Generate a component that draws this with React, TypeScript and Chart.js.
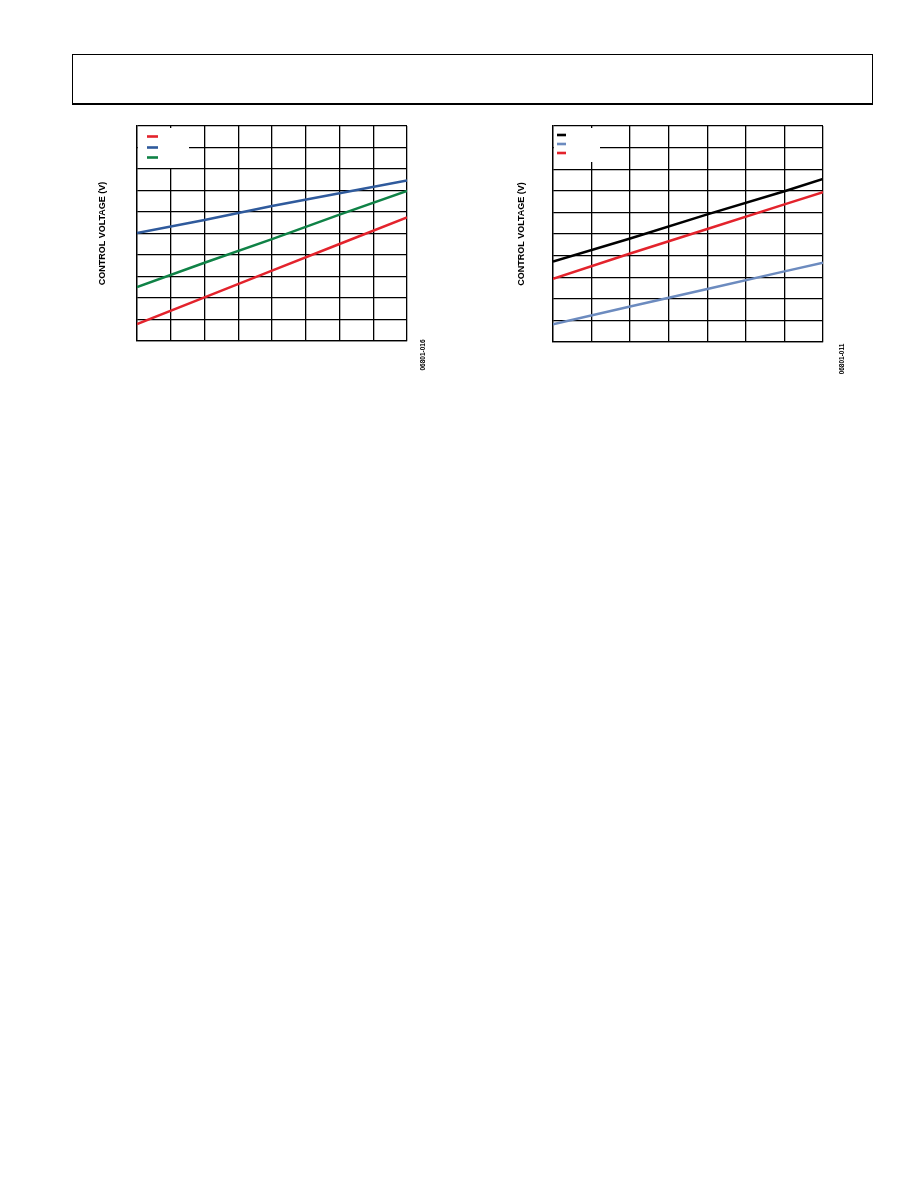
import React, { useEffect, useRef } from "react";
import { Chart, registerables } from "chart.js";

Chart.register(...registerables);

// ---------- Data ----------
const AXIS_TITLE = "CONTROL VOLTAGE (V)";

// Chart 1 (left)
const c1X = [0, 2, 4, 6, 8];
const c1Red = [0.79, 2.03, 3.27, 4.51, 5.75];
const c1Blue = [5.02, 5.63, 6.28, 6.87, 7.47];
const c1Green = [2.51, 3.64, 4.74, 5.88, 6.98];
const c1Colors = ["#e3232c", "#2f5a9c", "#0f8246"];
const c1Id = "06801-016";

// Chart 2 (right)
const c2X = [0, 2, 4, 6, 7];
const c2Black = [3.72, 4.79, 5.91, 6.98, 7.55];
const c2BlueGray = [0.82, 1.64, 2.45, 3.27, 3.67];
const c2Red = [2.92, 4.1, 5.23, 6.37, 6.94];
const c2Colors = ["#000000", "#6c8bbf", "#e3232c"];
const c2Id = "06801-011";

const FONT = "'Liberation Sans', Arial, sans-serif";

type LegendCfg = {
  boxW: number;
  boxH: number;
  swX: number;
  swW: number;
  swY: number[];
};

function legendPlugin(cfg: LegendCfg) {
  return {
    id: "innerLegend",
    afterDraw(chart: any) {
      const { ctx, chartArea } = chart;
      ctx.save();
      ctx.fillStyle = "#ffffff";
      ctx.fillRect(chartArea.left + 1, chartArea.top + 2, cfg.boxW, cfg.boxH);
      chart.data.datasets.forEach((ds: any, i: number) => {
        ctx.fillStyle = ds.borderColor;
        ctx.fillRect(
          chartArea.left + cfg.swX,
          chartArea.top + cfg.swY[i] - 1.3,
          cfg.swW,
          2.6
        );
      });
      ctx.restore();
    },
  };
}

type ChartSpec = {
  left: number;
  top: number;
  width: number;
  height: number;
  yScaleWidth: number;
  padRight: number;
  padTop: number;
  padBottom: number;
  titlePad: number;
  xMax: number;
  xs: number[];
  series: number[][];
  colors: string[];
  legend: LegendCfg;
};

function LineChart({ spec }: { spec: ChartSpec }) {
  const ref = useRef<HTMLCanvasElement>(null);
  useEffect(() => {
    if (!ref.current) return;
    const chart = new Chart(ref.current, {
      type: "line",
      data: {
        datasets: spec.series.map((vals, i) => ({
          label: "",
          data: vals.map((v, j) => ({ x: spec.xs[j], y: v })),
          borderColor: spec.colors[i],
          backgroundColor: spec.colors[i],
          borderWidth: 2.5,
          pointRadius: 0,
          tension: 0,
        })),
      },
      options: {
        animation: false,
        responsive: false,
        devicePixelRatio: 1,
        layout: {
          padding: {
            left: 0,
            right: spec.padRight,
            top: spec.padTop,
            bottom: spec.padBottom,
          },
        },
        plugins: {
          legend: { display: false },
          tooltip: { enabled: false },
        },
        scales: {
          x: {
            type: "linear",
            min: 0,
            max: spec.xMax,
            ticks: { display: false, stepSize: 1 },
            grid: { color: "#000", lineWidth: 1.3, drawTicks: false },
            border: { color: "#000", width: 1.3 },
            afterFit: (s: any) => {
              s.height = 0;
            },
          },
          y: {
            type: "linear",
            min: 0,
            max: 10,
            ticks: { display: false, stepSize: 1 },
            grid: { color: "#000", lineWidth: 1.3, drawTicks: false },
            border: { color: "#000", width: 1.3 },
            title: {
              display: true,
              text: AXIS_TITLE,
              color: "#000",
              font: { family: FONT, size: 9, weight: "bold" },
              padding: { top: spec.titlePad, bottom: 0 },
            },
            afterFit: (s: any) => {
              s.width = spec.yScaleWidth;
            },
          },
        },
      } as any,
      plugins: [legendPlugin(spec.legend)],
    });
    return () => chart.destroy();
  }, [spec]);
  return (
    <canvas
      ref={ref}
      width={spec.width}
      height={spec.height}
      style={{
        position: "absolute",
        left: spec.left,
        top: spec.top,
        width: spec.width,
        height: spec.height,
      }}
    />
  );
}

const spec1: ChartSpec = {
  left: 91,
  top: 116,
  width: 340,
  height: 265,
  yScaleWidth: 46,
  padRight: 24,
  padTop: 10,
  padBottom: 40,
  titlePad: 6.2,
  xMax: 8,
  xs: c1X,
  series: [c1Red, c1Blue, c1Green],
  colors: c1Colors,
  legend: { boxW: 51, boxH: 40, swX: 10, swW: 11, swY: [10.5, 21.5, 31.5] },
};

const spec2: ChartSpec = {
  left: 511,
  top: 116,
  width: 340,
  height: 265,
  yScaleWidth: 42,
  padRight: 28,
  padTop: 10,
  padBottom: 39,
  titlePad: 5.6,
  xMax: 7,
  xs: c2X,
  series: [c2Black, c2BlueGray, c2Red],
  colors: c2Colors,
  legend: { boxW: 46, boxH: 34, swX: 4, swW: 9, swY: [9, 18, 27] },
};

function FigId({ text, cx, cy }: { text: string; cx: number; cy: number }) {
  return (
    <div
      style={{
        position: "absolute",
        left: cx - 40,
        top: cy - 5,
        width: 80,
        height: 10,
        lineHeight: "10px",
        textAlign: "center",
        fontFamily: FONT,
        fontSize: 6.5,
        fontWeight: "bold",
        color: "#000",
        transform: "rotate(-90deg)",
        whiteSpace: "nowrap",
      }}
    >
      {text}
    </div>
  );
}

export default function App() {
  return (
    <div
      style={{
        position: "absolute",
        left: 0,
        top: 0,
        width: 918,
        height: 1188,
        background: "#fff",
      }}
    >
      <div
        style={{
          position: "absolute",
          left: 72,
          top: 54,
          width: 799,
          height: 48,
          borderLeft: "1px solid #000",
          borderRight: "1px solid #000",
          borderTop: "1px solid #000",
          borderBottom: "2px solid #000",
        }}
      />
      <LineChart spec={spec1} />
      <LineChart spec={spec2} />
      <FigId text={c1Id} cx={422.5} cy={355} />
      <FigId text={c2Id} cx={841.5} cy={359} />
    </div>
  );
}
